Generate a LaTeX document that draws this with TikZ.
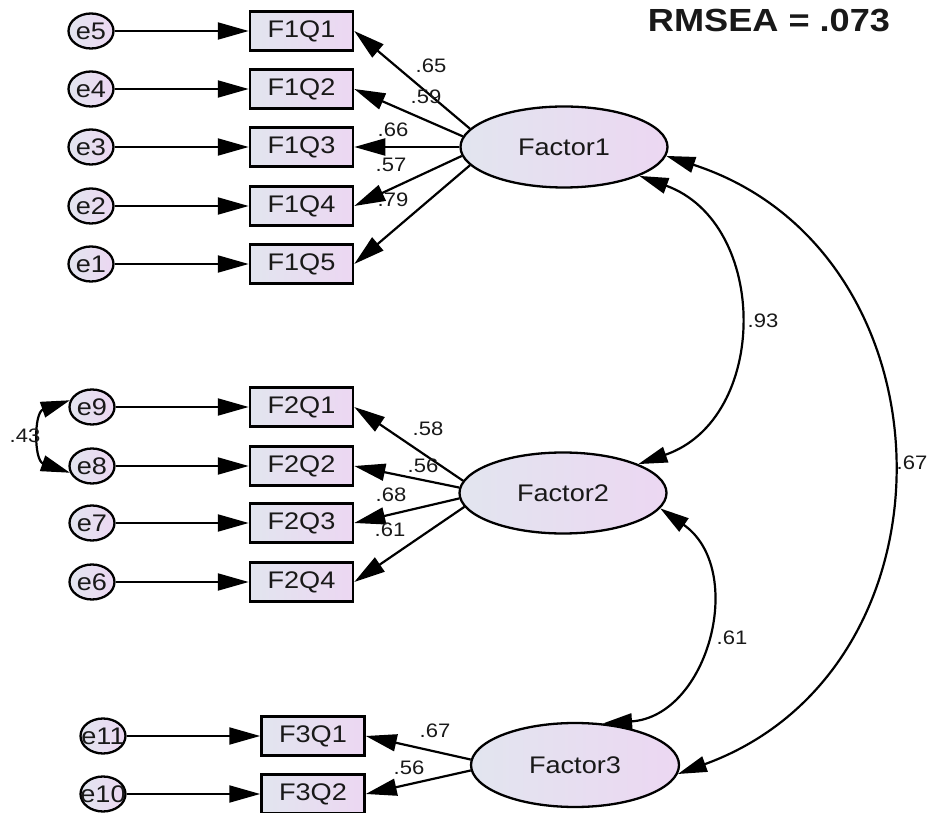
\documentclass[tikz,border=0pt]{standalone}
\usepackage{fontspec}
\setmainfont{Liberation Sans}[FakeStretch=1.13]
\usetikzlibrary{shapes.geometric,arrows.meta}
\definecolor{fillL}{RGB}{226,229,239}
\definecolor{fillR}{RGB}{236,215,242}
\definecolor{ink}{RGB}{25,25,25}
\begin{document}
\begin{tikzpicture}[x=1pt,y=1pt,
  obs/.style={draw=black, line width=2.5pt, rectangle, minimum width=103pt, minimum height=39pt, inner sep=0pt, left color=fillL, right color=fillR, text=ink, font=\fontsize{24}{24}\selectfont},
  lat/.style={draw=black, ellipse, line width=2.3pt, minimum width=207pt, minimum height=81pt, inner sep=0pt, left color=fillL, right color=fillR, text=ink, font=\fontsize{24}{24}\selectfont},
  err/.style={draw=black, ellipse, line width=2.3pt, minimum width=45pt, minimum height=35pt, inner sep=0pt, left color=fillL, right color=fillR, text=ink, font=\fontsize{24}{24}\selectfont},
  coef/.style={inner sep=0pt, text=ink, font=\fontsize{19.5}{19.5}\selectfont},
  reg/.style={line width=2.2pt, -{Triangle[length=31pt,width=17pt]}},
  cov/.style={line width=2.2pt, {Triangle[length=29pt,width=16pt]}-{Triangle[length=29pt,width=16pt]}},
]
\useasboundingbox (0,0) rectangle (927,812);

% Factor 1 block
\node[err] (e5) at (91,781) {\makebox[0pt]{e5}};
\node[err] (e4) at (91,723) {\makebox[0pt]{e4}};
\node[err] (e3) at (91,665) {\makebox[0pt]{e3}};
\node[err] (e2) at (91,606) {\makebox[0pt]{e2}};
\node[err] (e1) at (91,548) {\makebox[0pt]{e1}};
\node[obs] (F1Q1) at (301.5,781) {F1Q1};
\node[obs] (F1Q2) at (301.5,723) {F1Q2};
\node[obs] (F1Q3) at (301.5,665) {F1Q3};
\node[obs] (F1Q4) at (301.5,606) {F1Q4};
\node[obs] (F1Q5) at (301.5,548) {F1Q5};
\node[lat] (Factor1) at (564,665) {Factor1};

% Factor 2 block
\node[err] (e9) at (92,405) {\makebox[0pt]{e9}};
\node[err] (e8) at (92,346) {\makebox[0pt]{e8}};
\node[err] (e7) at (92,289) {\makebox[0pt]{e7}};
\node[err] (e6) at (92,230) {\makebox[0pt]{e6}};
\node[obs] (F2Q1) at (301.5,405) {F2Q1};
\node[obs] (F2Q2) at (301.5,346) {F2Q2};
\node[obs] (F2Q3) at (301.5,289) {F2Q3};
\node[obs] (F2Q4) at (301.5,230) {F2Q4};
\node[lat] (Factor2) at (563,319) {Factor2};

% Factor 3 block
\node[err] (e11) at (103,76) {\makebox[0pt]{e11}};
\node[err] (e10) at (103,18) {\makebox[0pt]{e10}};
\node[obs] (F3Q1) at (313,76) {F3Q1};
\node[obs] (F3Q2) at (313,18) {F3Q2};
\node[lat, minimum width=208pt, minimum height=84pt] (Factor3) at (575,47) {Factor3};

% error arrows
\foreach \e/\b in {e5/F1Q1,e4/F1Q2,e3/F1Q3,e2/F1Q4,e1/F1Q5,e9/F2Q1,e8/F2Q2,e7/F2Q3,e6/F2Q4,e11/F3Q1,e10/F3Q2}
  \draw[reg] (\e.east) -- (\b.west);

% loadings
\draw[reg] (Factor1.169) -- (F1Q1.east);
\draw[reg] (Factor1.174) -- (F1Q2.east);
\draw[reg] (Factor1.180) -- (F1Q3.east);
\draw[reg] (Factor1.185) -- (F1Q4.east);
\draw[reg] (Factor1.191) -- (F1Q5.east);
\draw[reg] (Factor2.173) -- (F2Q1.east);
\draw[reg] (Factor2.177) -- (F2Q2.east);
\draw[reg] (Factor2.183) -- (F2Q3.east);
\draw[reg] (Factor2.188) -- (F2Q4.east);
\draw[reg] (Factor3.177) -- (F3Q1.east);
\draw[reg] (Factor3.183) -- (F3Q2.east);

% covariances
\draw[cov] (Factor1.-21) to[out=-20,in=19,looseness=1.23] (Factor2.21);
\draw[cov] (Factor1.-5) to[out=-18,in=20,looseness=1.27] (Factor3.-5);
\draw[cov] (Factor2.-9) to[out=-35,in=4,looseness=1.22] (Factor3.56);
\draw[cov] (e9.163) to[out=199,in=161,looseness=1.35] (e8.197);

% coefficient labels
\node[coef] (c1) at (431,746) {.65};
\node[coef] (c2) at (426,715) {.59};
\node[coef] (c3) at (393,682) {.66};
\node[coef] (c4) at (391,647) {.57};
\node[coef] (c5) at (393,612) {.79};
\node[coef] (c6) at (428,383) {.58};
\node[coef] (c7) at (423,346) {.56};
\node[coef] (c8) at (391,317) {.68};
\node[coef] (c9) at (390,282) {.61};
\node[coef] (c10) at (25,376) {.43};
\node[coef] (c11) at (435,81) {.67};
\node[coef] (c12) at (409,44) {.56};
\node[coef] (c13) at (763,491) {.93};
\node[coef] (c14) at (732,174) {.61};
\node[coef] (c15) at (912,349) {.67};

\node[inner sep=0pt, text=ink, font=\fontsize{32}{32}\selectfont\bfseries] (rmsea) at (769,791) {RMSEA = .073};
\end{tikzpicture}
\end{document}
